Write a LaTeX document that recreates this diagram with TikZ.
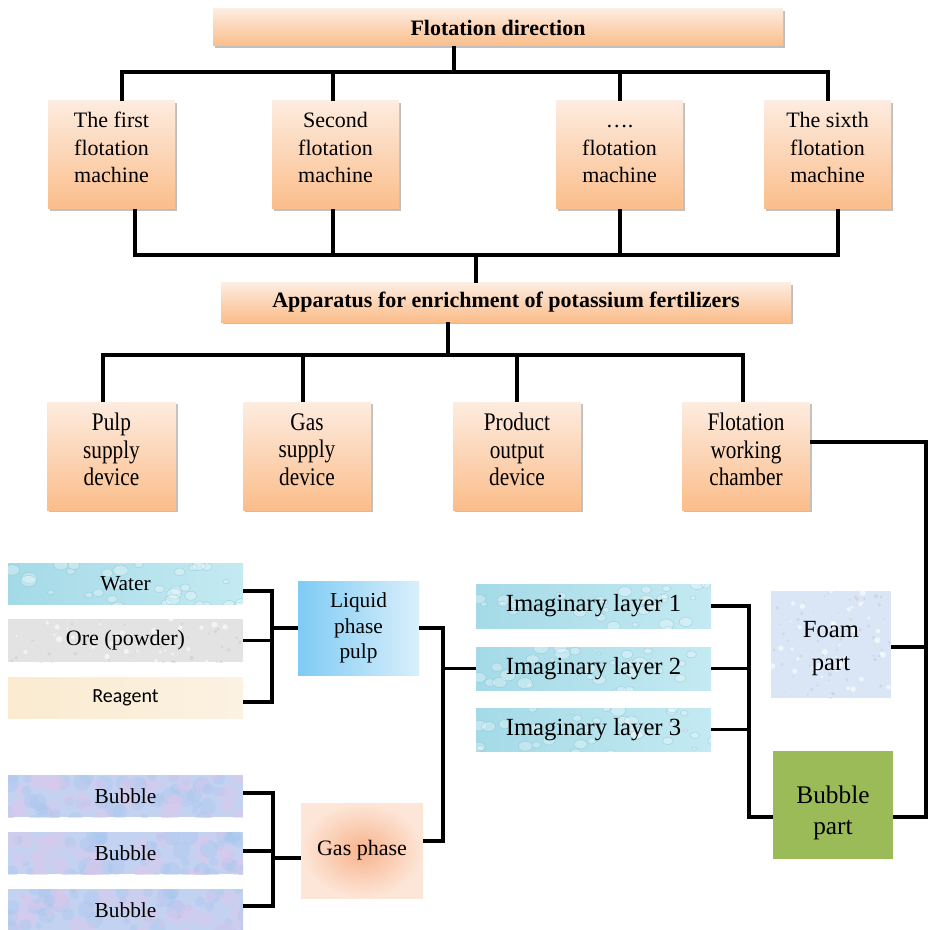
\documentclass[tikz,border=0pt]{standalone}
\usepackage{fontspec}
\setmainfont{Liberation Serif}
\newfontfamily\condensed[FakeStretch=0.84]{Liberation Serif}
\newfontfamily\carlito{Carlito}
\usetikzlibrary{shadows,calc}
\definecolor{orTop}{HTML}{FDECE0}
\definecolor{orBot}{HTML}{FBBD8A}
\definecolor{wat1}{HTML}{A4DAE7}
\definecolor{wat2}{HTML}{C4EAF2}
\definecolor{wat3}{HTML}{6FB3C8}
\definecolor{liqL}{HTML}{7ECBF4}
\definecolor{liqR}{HTML}{D9EFFB}
\definecolor{gasIn}{HTML}{F8B38C}
\definecolor{gasOut}{HTML}{FDE6D8}
\definecolor{greenP}{HTML}{9BBB59}
\definecolor{foamC}{HTML}{DAE6F6}
\definecolor{oreC}{HTML}{E3E3E3}
\definecolor{reaL}{HTML}{FAEBD0}
\definecolor{reaR}{HTML}{FCF2E2}
\definecolor{bubC}{HTML}{C4D2F1}
\definecolor{bubP}{HTML}{DCC8EC}
\definecolor{bubB}{HTML}{A8C6EE}
\newcommand\watertex[1]{%
  \fill[left color=wat1, right color=wat2] (path picture bounding box.north west) rectangle (path picture bounding box.south east);
  \coordinate (ppnw) at (path picture bounding box.north west);
  \pgfmathsetseed{#1}
  \foreach \k in {1,...,34}{
    \pgfmathsetmacro\ex{rnd*240}\pgfmathsetmacro\ey{rnd*46}\pgfmathsetmacro\er{2+rnd*6}
    \fill[white, opacity=.3] ($(ppnw)+(\ex,\ey)$) ellipse [x radius=\er, y radius=0.7*\er];
    \draw[wat3, opacity=.4, line width=.4pt] ($(ppnw)+(\ex,\ey)$) ellipse [x radius=\er, y radius=0.7*\er];
  }}
\newcommand\bubtex[1]{%
  \fill[bubC] (path picture bounding box.north west) rectangle (path picture bounding box.south east);
  \coordinate (ppnw) at (path picture bounding box.north west);
  \pgfmathsetseed{#1}
  \foreach \k in {1,...,45}{
    \pgfmathsetmacro\ex{rnd*240}\pgfmathsetmacro\ey{rnd*46}\pgfmathsetmacro\er{3+rnd*7}
    \fill[bubP, opacity=.45] ($(ppnw)+(\ex,\ey)$) circle [radius=\er];
    \pgfmathsetmacro\fx{rnd*240}\pgfmathsetmacro\fy{rnd*46}
    \fill[bubB, opacity=.4] ($(ppnw)+(\fx,\fy)$) circle [radius=\er];
  }}
\newcommand\specktex[2]{%
  \fill[#1] (path picture bounding box.north west) rectangle (path picture bounding box.south east);
  \coordinate (ppnw) at (path picture bounding box.north west);
  \pgfmathsetseed{#2}
  \foreach \k in {1,...,90}{
    \pgfmathsetmacro\ex{rnd*240}\pgfmathsetmacro\ey{rnd*110}\pgfmathsetmacro\er{1+rnd*2.5}
    \fill[white, opacity=.6] ($(ppnw)+(\ex,\ey)$) circle [radius=\er];
    \pgfmathsetmacro\fx{rnd*240}\pgfmathsetmacro\fy{rnd*110}
    \fill[black!30, opacity=.3] ($(ppnw)+(\fx,\fy)$) circle [radius=0.6*\er];
  }}
\tikzset{
  wh/.style 2 args={minimum width=#1*0.75pt, minimum height=#2*0.75pt},
  box/.style={rectangle, inner sep=0pt, draw=none},
  obox/.style={box, top color=orTop, bottom color=orBot,
    drop shadow={shadow xshift=1.6pt, shadow yshift=-1.6pt, fill=black!55, opacity=0.45}},
  conn/.style={line width=2.3pt, black},
  mtxt/.style={align=center, inner sep=0pt, font=\fontsize{16.5}{20.6}\selectfont},
  ctxt/.style={align=center, inner sep=0pt, font=\condensed\fontsize{19}{20.6}\selectfont},
  waterfill/.style={path picture={\watertex{#1}}},
  bubfill/.style={path picture={\bubtex{#1}}},
  speck/.style 2 args={path picture={\specktex{#1}{#2}}}
}
\begin{document}
\begin{tikzpicture}[x=0.75pt, y=-0.75pt]
\useasboundingbox (0,0) rectangle (928,930);

% ---- top level
\node[obox, wh={570}{37}, font=\bfseries\fontsize{16.5}{20}\selectfont] (fd) at (498,27.5) {Flotation direction};

\node[obox, wh={127}{108}] (m1) at (111.5,155) {};
\node[obox, wh={127}{108}] (m2) at (335.5,155) {};
\node[obox, wh={127}{108}] (m3) at (619.5,155) {};
\node[obox, wh={127}{108}] (m4) at (827.5,155) {};
\node[mtxt] (m1t) at ([yshift=5.6pt]m1.center) {The first\\flotation\\machine};
\node[mtxt] (m2t) at ([yshift=5.6pt]m2.center) {Second\\flotation\\machine};
\node[mtxt] (m3t) at ([yshift=5.6pt]m3.center) {\vphantom{Th}….\\flotation\\machine};
\node[mtxt] (m4t) at ([yshift=5.6pt]m4.center) {The sixth\\flotation\\machine};

\coordinate (t0) at (454,72);
\coordinate (d1) at (122,72);
\coordinate (d2) at (333,72);
\coordinate (d3) at (620,72);
\coordinate (d4) at (828,72);
\draw[conn] (fd.south -| t0) -- (t0);
\draw[conn] (d1 |- m1.north) -- (d1) -- (d4) -- (d4 |- m4.north);
\draw[conn] (d2) -- (d2 |- m2.north);
\draw[conn] (d3) -- (d3 |- m3.north);

\node[obox, wh={570}{39}, font=\bfseries\fontsize{16.5}{20}\selectfont] (ap) at (506,302.5) {Apparatus for enrichment of potassium fertilizers};

\coordinate (b1) at (135,255);
\coordinate (b2) at (333,255);
\coordinate (b3) at (620,255);
\coordinate (b4) at (838,255);
\coordinate (t1) at (476,255);
\draw[conn] (b1 |- m1.south) -- (b1) -- (b4) -- (b4 |- m4.south);
\draw[conn] (b2 |- m2.south) -- (b2);
\draw[conn] (b3 |- m3.south) -- (b3);
\draw[conn] (t1) -- (t1 |- ap.north);

% ---- devices
\node[obox, wh={129}{108}] (p1) at (111.5,456) {};
\node[obox, wh={128}{108}] (p2) at (307,456) {};
\node[obox, wh={128}{108}] (p3) at (517,456) {};
\node[obox, wh={128}{108}] (p4) at (746,456) {};
\node[ctxt] (p1t) at ([yshift=4.9pt]p1.center) {Pulp\\supply\\device};
\node[ctxt] (p2t) at ([yshift=4.9pt]p2.center) {Gas\\supply\\device};
\node[ctxt] (p3t) at ([yshift=4.9pt]p3.center) {Product\\output\\device};
\node[ctxt] (p4t) at ([yshift=4.9pt]p4.center) {Flotation\\working\\chamber};

\coordinate (a0) at (448,355);
\coordinate (e1) at (103,355);
\coordinate (e2) at (303,355);
\coordinate (e3) at (517,355);
\coordinate (e4) at (743,355);
\draw[conn] (ap.south -| a0) -- (a0);
\draw[conn] (e1 |- p1.north) -- (e1) -- (e4) -- (e4 |- p4.north);
\draw[conn] (e2) -- (e2 |- p2.north);
\draw[conn] (e3) -- (e3 |- p3.north);

% ---- lower part: inputs
\node[box, wh={235}{41}, waterfill=3, font=\fontsize{16}{19}\selectfont] (wa) at (125.5,583.5) {Water};
\node[box, wh={235}{43}, speck={oreC}{5}, font=\fontsize{16.5}{19}\selectfont] (ore) at (125.5,640.5) {Ore (powder)};
\node[box, wh={235}{41}, left color=reaL, right color=reaR, font=\carlito\fontsize{15}{18}\selectfont] (re) at (125.5,697.5) {Reagent};

\node[box, wh={121}{94}, left color=liqL, right color=liqR, align=center, font=\fontsize{16}{19}\selectfont] (lp) at (358.5,628) {Liquid\\phase\\pulp};

\node[box, wh={235}{42}, bubfill=11, font=\fontsize{16}{19}\selectfont] (bu1) at (125.5,796) {Bubble};
\node[box, wh={235}{42}, bubfill=12, font=\fontsize{16}{19}\selectfont] (bu2) at (125.5,853) {Bubble};
\node[box, wh={235}{42}, bubfill=13, font=\fontsize{16}{19}\selectfont] (bu3) at (125.5,910) {Bubble};

\node[box, wh={122}{95}, inner color=gasIn, outer color=gasOut, font=\fontsize{16.5}{19}\selectfont] (gp) at (362,850.5) {Gas phase};

\coordinate (w1) at (272,591);
\coordinate (w3) at (272,702);
\coordinate (wj) at (272,628);
\draw[conn] (w1 -| wa.east) -- (w1) -- (w3) -- (w3 -| re.east);
\draw[conn] (ore.east) -- (ore.east -| w1);
\draw[conn] (wj) -- (wj -| lp.west);

\coordinate (g1) at (273,793);
\coordinate (g2) at (273,851);
\coordinate (g3) at (273,906);
\coordinate (gj) at (273,858);
\draw[conn] (g1 -| bu1.east) -- (g1) -- (g3) -- (g3 -| bu3.east);
\draw[conn] (g2 -| bu2.east) -- (g2);
\draw[conn] (gj) -- (gj -| gp.west);

% ---- imaginary layers
\node[box, wh={235}{44}, waterfill=21, font=\fontsize{18.5}{22}\selectfont] (il1) at (593.5,606) {Imaginary layer 1};
\node[box, wh={235}{43}, waterfill=22, font=\fontsize{18.5}{22}\selectfont] (il2) at (593.5,668.5) {Imaginary layer 2};
\node[box, wh={235}{43}, waterfill=23, font=\fontsize{18.5}{22}\selectfont] (il3) at (593.5,729.5) {Imaginary layer 3};

\coordinate (k2) at (443,841);
\draw[conn] (lp.east) -| (k2) -- (k2 -| gp.east);
\draw[conn] (il2.west) -- (il2.west -| k2);

% ---- foam / bubble part
\node[box, wh={120}{107}, speck={foamC}{31}] (fp) at (831,644.5) {};
\node[box, wh={120}{108}, fill=greenP] (bp) at (833,805) {};
\node[align=center, inner sep=0pt, font=\fontsize{18.5}{24.7}\selectfont] (fpt) at ([yshift=-3pt]fp.center) {Foam\\part};
\node[align=center, inner sep=0pt, font=\fontsize{19}{23.2}\selectfont] (bpt) at ([yshift=-5.6pt]bp.center) {Bubble\\part};

\coordinate (v1) at (749,606);
\coordinate (v4) at (749,817);
\draw[conn] (il1.east |- v1) -- (v1) -- (v4) -- (v4 -| bp.west);
\draw[conn] (il2.east) -- (il2.east -| v1);
\draw[conn] (il3.east) -- (il3.east -| v1);

\coordinate (r0) at (926,442);
\coordinate (r2) at (926,647);
\coordinate (r1) at (926,817);
\draw[conn] (r0 -| p4.east) -- (r0) -- (r1) -- (r1 -| bp.east);
\draw[conn] (r2 -| fp.east) -- (r2);
\end{tikzpicture}
\end{document}
